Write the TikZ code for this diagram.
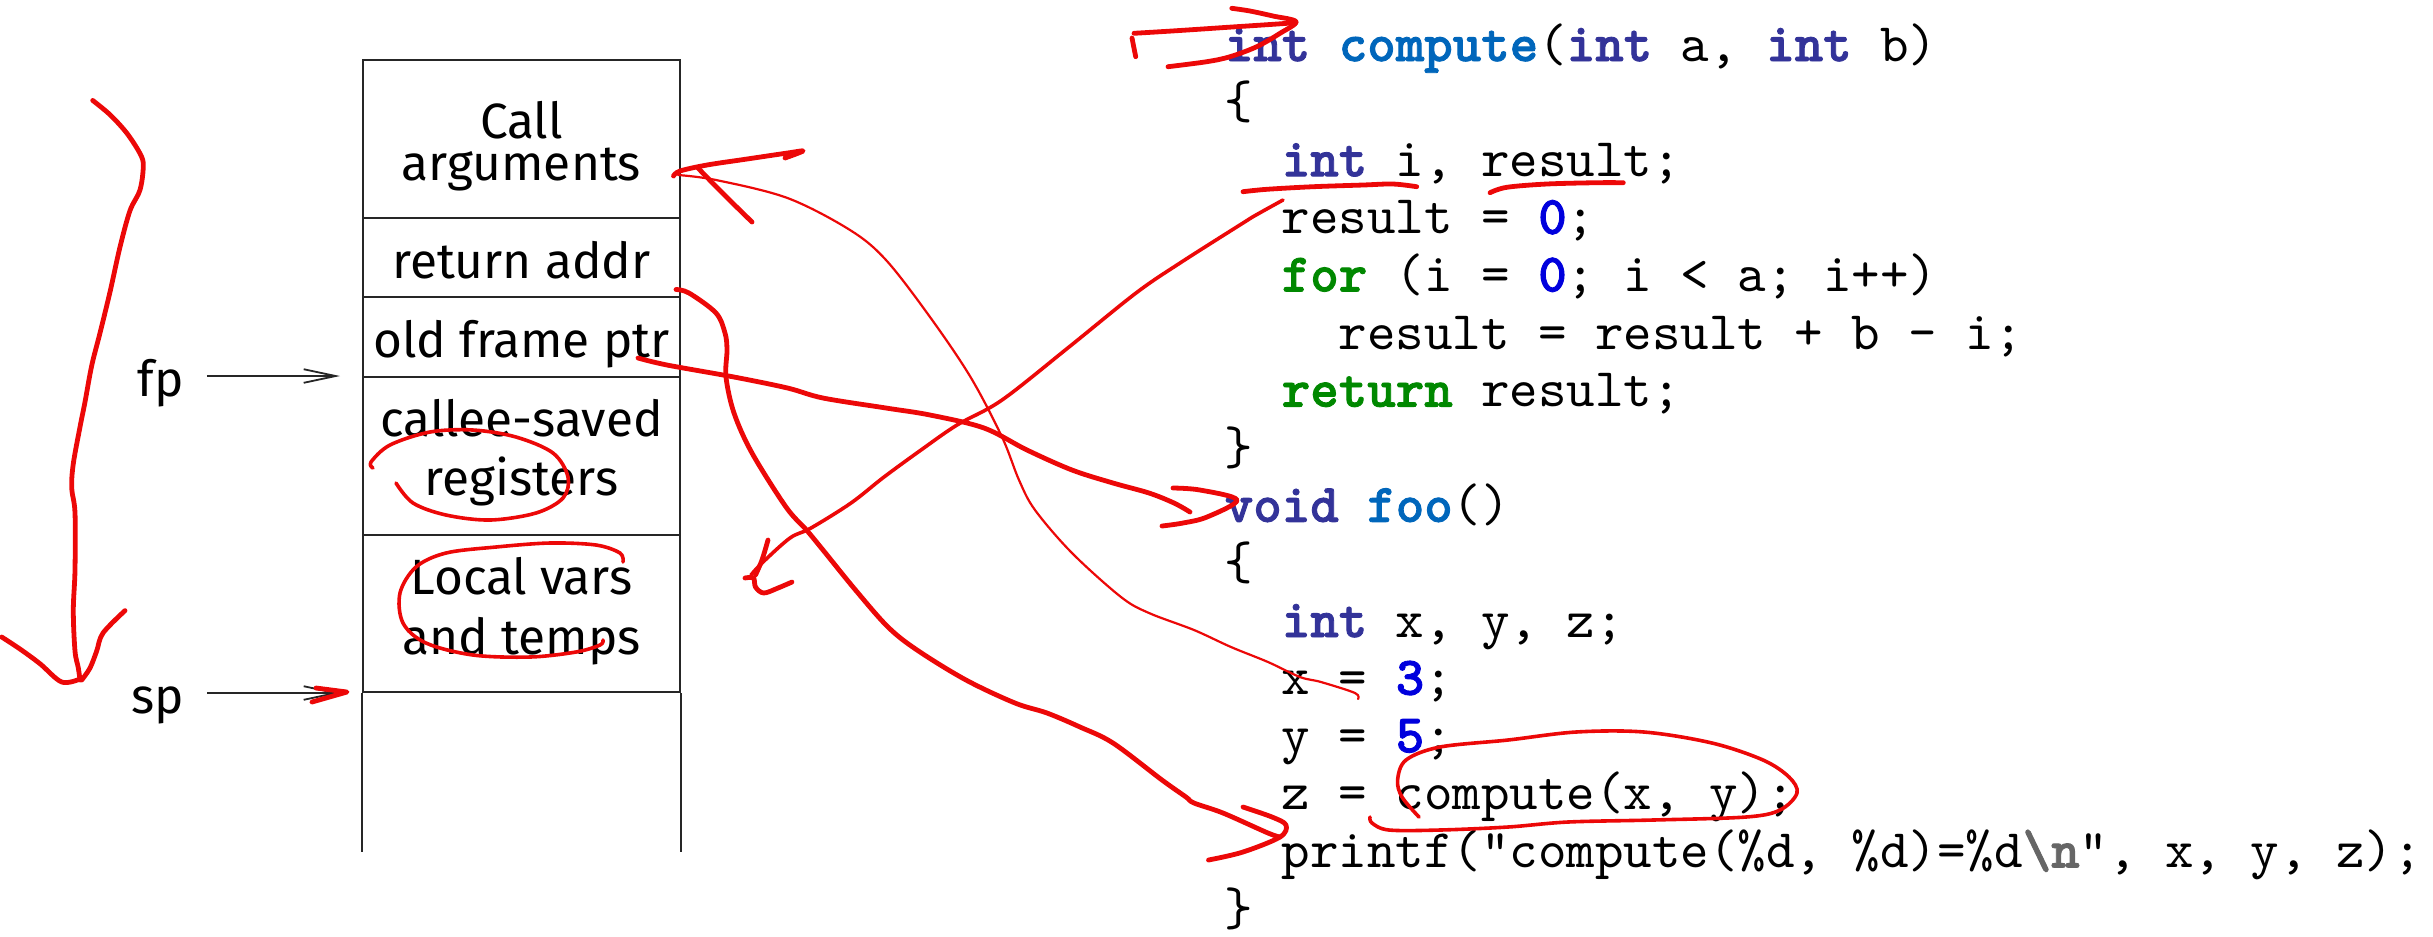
\documentclass[tikz,border=0pt]{standalone}
\usepackage{fontspec}
\setmainfont{Fira Sans}
\setmonofont{lmmono10-regular}[Extension=.otf, BoldFont=lmmonolt10-bold, BoldFeatures={FakeBold=1.6}]
\usetikzlibrary{arrows.meta}

% syntax colours for the listing
\definecolor{kwtype}{HTML}{333399}
\definecolor{kwfunc}{HTML}{0066BB}
\definecolor{kwflow}{HTML}{008800}
\definecolor{kwnum}{HTML}{0000DD}
\definecolor{kwesc}{HTML}{666666}
\definecolor{ink}{RGB}{236,8,8}

\newcommand\cType[1]{{\color{kwtype}\bfseries #1}}
\newcommand\cFunc[1]{{\color{kwfunc}\bfseries #1}}
\newcommand\cFlow[1]{{\color{kwflow}\bfseries #1}}
\newcommand\cNum[1]{{\color{kwnum}\bfseries #1}}
\newcommand\cEsc[1]{{\color{kwesc}\bfseries #1}}

\begin{document}
\begin{tikzpicture}[
  x=0.25pt, y=-0.25pt,
  code/.style={anchor=base west, inner sep=0pt, font=\fontsize{13.57}{16}\ttfamily},
  lbl/.style={anchor=base, inner sep=0pt, font=\fontsize{12.4}{15}\selectfont},
  cell/.style={draw=black!85, line width=0.5pt, minimum width=79.25pt, inner sep=0pt},
  ptr/.style={draw=black!85, line width=0.45pt, -{Straight Barb[length=8pt,width=3.4pt]}},
  penA/.style={draw=ink, line width=1.2pt, line cap=round, line join=round},
  penB/.style={draw=ink, line width=0.9pt, line cap=round, line join=round},
  penC/.style={draw=ink, line width=0.55pt, line cap=round, line join=round},
  freehand/.style={smooth, tension=0.55},
]
\useasboundingbox (0,0) rectangle (2433,936);

% ---- stack frame ----
\node[cell, minimum height=39.5pt]  (c1) at (521.5,139)   {};
\node[cell, minimum height=19.75pt] (c2) at (521.5,257.5) {};
\node[cell, minimum height=20pt]    (c3) at (521.5,337)   {};
\node[cell, minimum height=39.5pt]  (c4) at (521.5,456)   {};
\node[cell, minimum height=39.25pt] (c5) at (521.5,613.5) {};
\draw[draw=black!85, line width=0.5pt] (c5.south west) -- ++(0,159);
\draw[draw=black!85, line width=0.5pt] (c5.south east) -- ++(0,159);

\node[lbl] (tCall)  at (521.5,138) {Call};
\node[lbl] (tArgs)  at (521.5,180) {arguments};
\node[lbl] (tRet)   at (521.5,278) {return addr};
\node[lbl] (tOld)   at (521.5,357) {old frame ptr};
\node[lbl] (tCal)   at (521.5,436) {callee-saved};
\node[lbl] (tReg)   at (521.5,495.5) {registers};
\node[lbl] (tLoc)   at (521.5,594) {Local vars};
\node[lbl] (tTmp)   at (521.5,654) {and temps};

\node[lbl] (fp) at (161,396) {fp};
\node[lbl] (sp) at (158,713) {sp};
\draw[ptr, shorten >=5.5pt] ([xshift=5.5pt]fp.east |- c4.north west) -- (c4.north west);
\draw[ptr, shorten >=5.5pt] ([xshift=5.5pt]sp.east |- c5.south west) -- (c5.south west);

% ---- listing ----
\node[code] (l1)  at (1224,61)    {\cType{int} \cFunc{compute}(\cType{int} a, \cType{int} b)};
\node[code] (l2)  at (1224,118.6) {\{};
\node[code] (l3)  at (1281,176.2) {\cType{int} i, result;};
\node[code] (l4)  at (1281,233.8) {result = \cNum{0};};
\node[code] (l5)  at (1281,291.4) {\cFlow{for} (i = \cNum{0}; i < a; i++)};
\node[code] (l6)  at (1338,349)   {result = result + b - i;};
\node[code] (l7)  at (1281,406.6) {\cFlow{return} result;};
\node[code] (l8)  at (1224,464.2) {\}};
\node[code] (l9)  at (1224,521.8) {\cType{void} \cFunc{foo}()};
\node[code] (l10) at (1224,579.4) {\{};
\node[code] (l11) at (1281,637)   {\cType{int} x, y, z;};
\node[code] (l12) at (1281,694.6) {x = \cNum{3};};
\node[code] (l13) at (1281,752.2) {y = \cNum{5};};
\node[code] (l14) at (1281,809.8) {z = compute(x, y);};
\node[code] (l15) at (1281,867.4) {printf("compute(\%d, \%d)=\%d\cEsc{\textbackslash n}", x, y, z);};
\node[code] (l16) at (1224,925)   {\}};

% ---- pen annotations ----
% stack grows downward
\draw[penA] plot[freehand] coordinates {(92.7,100.4) (110,114.7) (126.7,133) (140,153.5) (143.3,165.7) (140,190) (130,210.6) (120,247) (110,292) (100,333) (91.7,365.7) (85,402) (80,427) (73.3,463.7) (71.7,488) (75,512.6) (75,570) (73.3,610.6) (75,651) (78.3,667.8) (80,680)};
\draw[penA] plot[freehand] coordinates {(1.7,637) (20,649) (40,663.7) (61.7,682) (80,679)};
\draw[penA] plot[freehand] coordinates {(125,610.6) (103,633) (96.7,651) (90,668) (81.7,680)};
% sp tip
\draw[penA] (316,688) -- (347,692) -- (312,702);

% circles round the saved registers and the locals
\draw[penB] plot[freehand] coordinates {(373,468) (371,462) (390,445) (430,432) (473,430) (516,437) (553,453) (568,477) (563,498) (536,513) (490,520) (446,515) (413,503) (396,483)};
\draw[penB] plot[freehand] coordinates {(623,562) (620,553) (596,545) (550,543) (496,547) (446,553) (416,567) (400,593) (403,623) (426,643) (473,655) (530,657) (576,652) (600,645) (603,640)};

% arguments come from the call site
\draw[penA] plot[freehand] coordinates {(673.5,176) (680,171) (707,165) (747,159) (787.5,153) (803,151) (785,158)};
\draw[penA] plot[freehand] coordinates {(698,168) (711.6,182) (729.5,200) (752,222)};
\draw[penC] plot[freehand] coordinates {(678,175) (716,180) (787.5,198) (850,230) (886,260) (930,317) (970.5,377) (1002,437) (1019,480) (1035,510) (1072,553) (1121,597) (1149,613) (1194,630) (1231,647) (1268,662) (1300,677) (1321,682) (1355,693) (1358,699)};

% return address points back into the caller
\draw[penA] plot[freehand] coordinates {(676,289.5) (689,293) (716,313) (725,333) (727,350) (726,377) (734,413) (752,453) (786,507) (806.5,530) (823,550) (855.5,590) (888,627) (917,650) (966,680) (1015,703) (1047,713) (1080,727) (1113,743) (1162,780) (1186,797) (1194,803) (1223,813) (1268,833) (1280,837)};
\draw[penA] plot[freehand] coordinates {(1243,807) (1272,817) (1286,825) (1280,837) (1243,852) (1208.5,860)};

% saved frame pointer belongs to foo
\draw[penA] plot[freehand] coordinates {(638,358) (667,365) (734,377) (787.5,388) (823,398) (886,408) (930,415) (984,428) (1027,450) (1072,470) (1113,483) (1149,493) (1174,503) (1190,512)};
\draw[penA] plot[freehand] coordinates {(1173,488) (1200,490) (1237,500) (1207,517) (1183,523) (1162,526)};

% locals of compute live in the frame
\draw[penB] plot[freehand] coordinates {(1283,200) (1256,215) (1243,223) (1180,263) (1136,293) (1069,347) (1002,400) (957,425) (921,450) (884,477) (851,503) (811,528) (790,538) (762,563) (751,575)};
\draw[penA] plot[freehand] coordinates {(768,540) (762,560) (755.5,575)};
\draw[penA] plot[freehand] coordinates {(745,578) (753.5,578) (755.5,587) (763.7,593) (778,588) (792,582)};
\draw[penA] plot[freehand] coordinates {(1243,191.7) (1266.7,189.3) (1313,186.7) (1363,185) (1393,184) (1416.7,186.7)};
\draw[penA] plot[freehand] coordinates {(1490,192.7) (1506.7,187.3) (1546.7,184) (1596.7,182.7) (1623.3,182.7)};

% entry of compute
\draw[penA] plot[freehand] coordinates {(1134,33.3) (1176.5,30.7) (1227.5,27.3) (1287,23.3) (1296,22)};
\draw[penA] plot[freehand] coordinates {(1231.8,8.3) (1250,11) (1273,16) (1296,21.7) (1280,33.3) (1256.7,46.7) (1230,56.7) (1206.7,61.7) (1168,66.7)};
\draw[penA] (1132,38) -- (1135.7,56.7);

% the call site
\draw[penB] plot[freehand] coordinates {(1419,817) (1402,797) (1397.6,780) (1406,760) (1440,747) (1508,740) (1576,732) (1644,732) (1712,743) (1763,760) (1789,777) (1797,793) (1780,810) (1746,817) (1653,820) (1568,822) (1508,827) (1440,830) (1389,830) (1372,823) (1370,817)};
\end{tikzpicture}
\end{document}
